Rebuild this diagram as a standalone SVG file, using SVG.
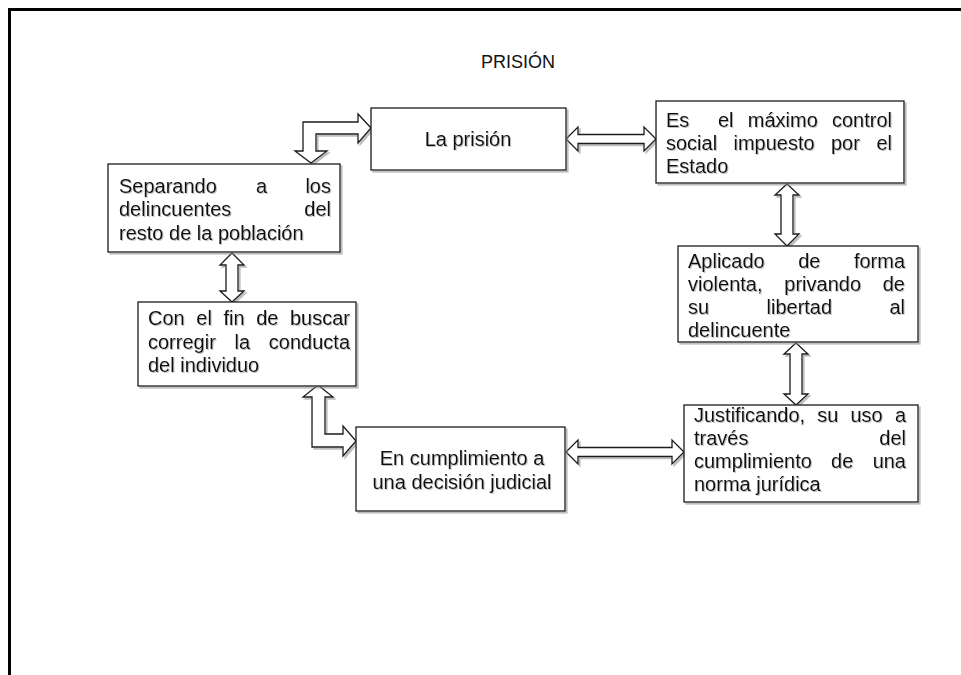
<svg xmlns="http://www.w3.org/2000/svg" width="961" height="675" viewBox="0 0 961 675">
<style>
.box{fill:#fff;stroke:#1a1a1a;stroke-width:1.3}
.arr{fill:#fff;stroke:#1a1a1a;stroke-width:1.3;stroke-linejoin:miter}
.t{font-family:"Liberation Sans",Arial,sans-serif;font-size:20px;fill:#111}
.e{text-anchor:end}
.m{text-anchor:middle}
.title{font-family:"Liberation Sans",Arial,sans-serif;font-size:18px;fill:#111;text-anchor:middle}
</style>
<defs>
<filter id="sh" x="-5%" y="-5%" width="115%" height="125%">
<feDropShadow dx="2" dy="2" stdDeviation="0.6" flood-color="#888" flood-opacity="0.55"/>
</filter>
<filter id="ts" x="-5%" y="-20%" width="115%" height="150%">
<feDropShadow dx="1" dy="1" stdDeviation="0.5" flood-color="#999" flood-opacity="0.6"/>
</filter>
</defs>
<rect width="961" height="675" fill="#fff"/>
<path d="M9.5 675 V9.5 H961" fill="none" stroke="#000" stroke-width="3"/>
<text class="title" x="518" y="68">PRISIÓN</text>

<g id="connectors" filter="url(#sh)">
<path class="arr" d="M566 139 L578 127 L578 134.5 L644 134.5 L644 127 L656 139 L644 151 L644 143.5 L578 143.5 L578 151 Z"/>
<path class="arr" d="M566 452 L578 440 L578 447.5 L672 447.5 L672 440 L684 452 L672 464 L672 456.5 L578 456.5 L578 464 Z"/>
<path class="arr" d="M371 128 L358 114 L358 122 L303 122 L303 151 L295 151 L311 163 L327 151 L316 151 L316 134 L358 134 L358 143 Z"/>
<path class="arr" d="M318 385 L333 397 L325 397 L325 434 L343 434 L343 426 L356 441 L343 456 L343 447 L312 447 L312 397 L303 397 Z"/>
<path class="arr" d="M232 253 L244 265 L238 265 L238 291 L244 291 L232 302 L220 291 L226 291 L226 265 L220 265 Z"/>
<path class="arr" d="M787 184 L799 195 L793 195 L793 234 L799 234 L787 246 L775 234 L781 234 L781 195 L775 195 Z"/>
<path class="arr" d="M796 343 L808 354 L802 354 L802 394 L808 394 L796 405 L784 394 L790 394 L790 354 L784 354 Z"/>
</g>

<g id="n-prision">
<rect class="box" filter="url(#sh)" x="371" y="108" width="195" height="62"/>
<text class="t m" filter="url(#ts)" x="468" y="146">La prisión</text>
</g>

<g id="n-maximo">
<rect class="box" filter="url(#sh)" x="656" y="101" width="248" height="82"/>
<g class="t" filter="url(#ts)">
<text x="666" y="126.5">Es</text><text x="717.9" y="126.5">el</text><text x="747.8" y="126.5">máximo</text><text class="e" x="892" y="126.5">control</text>
<text x="666" y="150">social</text><text x="733.5" y="150">impuesto</text><text x="831" y="150">por</text><text class="e" x="892" y="150">el</text>
<text x="666" y="173">Estado</text>
</g>
</g>

<g id="n-separando">
<rect class="box" filter="url(#sh)" x="108" y="164" width="232" height="88"/>
<g class="t" filter="url(#ts)">
<text x="119" y="193">Separando</text><text x="256" y="193">a</text><text class="e" x="331" y="193">los</text>
<text x="119" y="216">delincuentes</text><text class="e" x="331" y="216">del</text>
<text x="119" y="240">resto de la población</text>
</g>
</g>

<g id="n-aplicado">
<rect class="box" filter="url(#sh)" x="678" y="246" width="240" height="96"/>
<g class="t" filter="url(#ts)">
<text x="688" y="268">Aplicado</text><text x="798.2" y="268">de</text><text class="e" x="905" y="268">forma</text>
<text x="688" y="291">violenta,</text><text x="784.3" y="291">privando</text><text class="e" x="905" y="291">de</text>
<text x="688" y="314">su</text><text x="766.5" y="314">libertad</text><text class="e" x="905" y="314">al</text>
<text x="688" y="337">delincuente</text>
</g>
</g>

<g id="n-confin">
<rect class="box" filter="url(#sh)" x="138" y="302" width="218" height="84"/>
<g class="t" filter="url(#ts)">
<text x="148" y="325">Con</text><text x="196.3" y="325">el</text><text x="223.5" y="325">fin</text><text x="256.2" y="325">de</text><text class="e" x="350" y="325">buscar</text>
<text x="148" y="348.5">corregir</text><text x="234.5" y="348.5">la</text><text class="e" x="350" y="348.5">conducta</text>
<text x="148" y="372">del individuo</text>
</g>
</g>

<g id="n-cumplimiento">
<rect class="box" filter="url(#sh)" x="356" y="427" width="209" height="84"/>
<g class="t m" filter="url(#ts)">
<text x="462" y="465">En cumplimiento a</text>
<text x="462" y="489">una decisión judicial</text>
</g>
</g>

<g id="n-justificando">
<rect class="box" filter="url(#sh)" x="684" y="405" width="234" height="97"/>
<g class="t" filter="url(#ts)">
<text x="694" y="422">Justificando,</text><text x="817.3" y="422">su</text><text x="850.5" y="422">uso</text><text class="e" x="906" y="422">a</text>
<text x="694" y="445">través</text><text class="e" x="906" y="445">del</text>
<text x="694" y="468">cumplimiento</text><text x="831.1" y="468">de</text><text class="e" x="906" y="468">una</text>
<text x="694" y="491">norma jurídica</text>
</g>
</g>
</svg>
